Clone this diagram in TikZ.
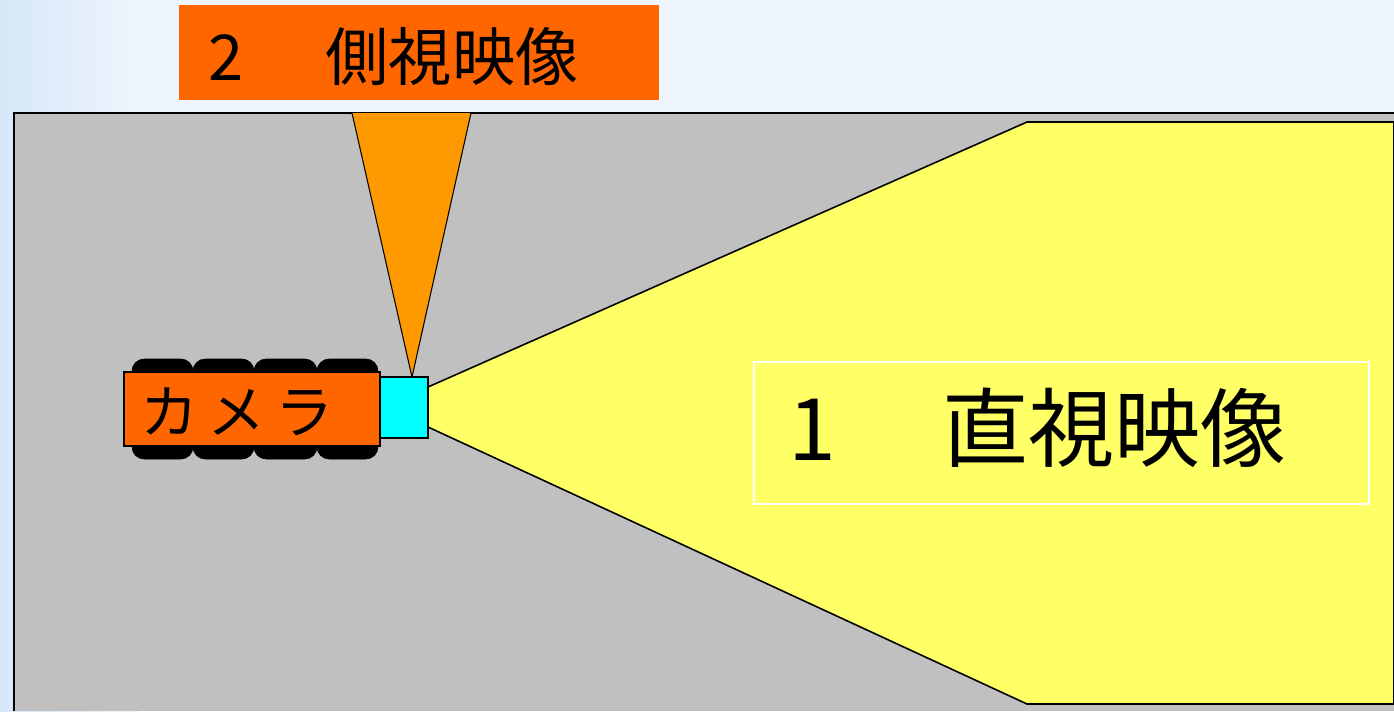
\documentclass[tikz,border=0pt]{standalone}
\usepackage{fontspec}
\newfontfamily\jpfont{Noto Sans CJK JP}
\definecolor{bgleft}{HTML}{D6E7F8}
\definecolor{bgright}{HTML}{EEF5FC}
\definecolor{groundgray}{HTML}{C0C0C0}
\definecolor{viewyellow}{HTML}{FFFF66}
\definecolor{sideorange}{HTML}{FF9900}
\definecolor{labelorange}{HTML}{FF6600}
\definecolor{lenscyan}{HTML}{00FFFF}
\tikzset{
  outline/.style={draw=black, line width=0.9pt, line join=miter},
  trackblob/.style={fill=black, draw=black, rounded corners=7pt},
  bigtext/.style={font=\jpfont, text=black, inner sep=0pt},
}
\begin{document}
\begin{tikzpicture}[x=0.02cm,y=-0.02cm]
\useasboundingbox (0,0) rectangle (1394,711);
% background
\shade[left color=bgleft, right color=bgright, shading angle=90] (0,0) rectangle (140,711);
\fill[bgright] (140,0) rectangle (1394,711);
% ground area
\fill[groundgray] (14,113) rectangle (1394,711);
\draw[black, line width=1.2pt] (14,711) -- (14,113) -- (1394,113);
% direct view (yellow)
\filldraw[fill=viewyellow, outline] (428,387) -- (1027,122) -- (1394,122) -- (1394,704) -- (1027,704) -- (428,427);
% side view (orange triangle)
\filldraw[fill=sideorange, outline, line width=0.6pt] (352,113) -- (412,377) -- (471,113);
% label box for side view
\node[fill=labelorange, minimum width=480*0.02cm, minimum height=95*0.02cm, inner sep=0pt] (sidebox) at (419,52.5) {};
\node[bigtext, font=\jpfont\fontsize{36}{40}\selectfont, anchor=west] (sidelabel) at (208,57) {2\quad\hspace{0.38cm}側視映像};
% tracks
\foreach \a/\b in {132/193,193/254,254/317,317/378}{
  \fill[trackblob] (\a,359) rectangle (\b,385);
  \fill[trackblob] (\a,433) rectangle (\b,459);
}
% camera body
\node[fill=labelorange, draw=black, line width=0.8pt, minimum width=256*0.02cm, minimum height=74*0.02cm, inner sep=0pt] (body) at (252,409) {};
\node[bigtext, font=\jpfont\fontsize{33}{36}\selectfont] (camlabel) at (237,412) {カ\,メ\,ラ};
% lens
\node[fill=lenscyan, draw=black, line width=0.8pt, minimum width=48*0.02cm, minimum height=61*0.02cm, inner sep=0pt] (lens) at (404,407.5) {};
% label box for direct view
\node[draw=white, line width=1pt, minimum width=615*0.02cm, minimum height=142*0.02cm, inner sep=0pt] (directbox) at (1061.5,433) {};
\node[bigtext, font=\jpfont\fontsize{49}{52}\selectfont, anchor=west] (directlabel) at (788,428) {1\quad\hspace{0.4cm}直視映像};
\end{tikzpicture}
\end{document}
